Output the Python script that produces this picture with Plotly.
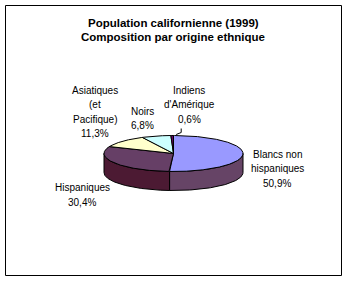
import numpy as np
import plotly.graph_objects as go

# ---- data ----
categories = ["Blancs non hispaniques", "Hispaniques", "Asiatiques (et Pacifique)", "Noirs", "Indiens d'Amérique"]
values = [50.9, 30.4, 11.3, 6.8, 0.6]
label_lines = [["Blancs non", "hispaniques"], ["Hispaniques"], ["Asiatiques", "(et", "Pacifique)"], ["Noirs"], ["Indiens", "d'Amérique"]]

# ---- style / layout ----
top_colors = ["#9999FF", "#663F66", "#FFFFCC", "#CCFFFF", "#660066"]
side_colors = ["#664466", "#4C1A33", "#999966", "#669999", "#330033"]
W, H = 347, 281
cx, cy, rx, ry, depth = 173.5, 153.5, 69.5, 18.0, 19.0
label_first_line = [(277, 154), (82, 187.5), (95, 90), (142, 111), (189, 90)]
line_step = 14.6

fig = go.Figure()

total = sum(values)
starts, ends = [], []
a = 90.0
for v in values:
    sweep = v / total * 360.0
    starts.append(a)
    ends.append(a - sweep)
    a -= sweep

def pt(theta_deg, dy=0.0):
    t = np.radians(theta_deg)
    return cx + rx * np.cos(t), cy - ry * np.sin(t) + dy

# sides (front half)
for i, v in enumerate(values):
    s, e = starts[i], ends[i]
    for lo, hi in [(-180.0, 0.0), (-540.0, -360.0)]:
        a0 = max(e, lo)
        a1 = min(s, hi)
        if a1 > a0:
            th = np.linspace(a1, a0, 80)
            xs_top = [pt(t)[0] for t in th]
            ys_top = [pt(t)[1] for t in th]
            xs = xs_top + xs_top[::-1] + [xs_top[0]]
            ys = ys_top + [y + depth for y in ys_top[::-1]] + [ys_top[0]]
            fig.add_trace(go.Scatter(x=xs, y=ys, mode="lines", fill="toself",
                                     fillcolor=side_colors[i],
                                     line=dict(color="black", width=1),
                                     hoverinfo="skip", showlegend=False))

# top faces
for i, v in enumerate(values):
    th = np.linspace(starts[i], ends[i], max(4, int(abs(starts[i] - ends[i]) * 2)))
    xs = [cx] + [pt(t)[0] for t in th] + [cx]
    ys = [cy] + [pt(t)[1] for t in th] + [cy]
    fig.add_trace(go.Scatter(x=xs, y=ys, mode="lines", fill="toself",
                             fillcolor=top_colors[i],
                             line=dict(color="black", width=1),
                             hoverinfo="skip", showlegend=False, name=categories[i]))

# leader line for the small slice
mid_last = (starts[-1] + ends[-1]) / 2
lx, ly = pt(mid_last)
fig.add_trace(go.Scatter(x=[lx + 4, lx + 9, lx + 9], y=[ly - 1, ly - 3, ly - 7], mode="lines",
                         line=dict(color="black", width=1), hoverinfo="skip", showlegend=False))

font = dict(family="Liberation Sans, Arial, sans-serif", size=10, color="black")
for i, v in enumerate(values):
    lines = label_lines[i] + [f"{v:.1f}".replace(".", ",") + "%"]
    x, y0 = label_first_line[i]
    for k, ln in enumerate(lines):
        fig.add_annotation(x=x, y=y0 + k * line_step, xref="x", yref="y", text=ln, showarrow=False,
                           font=font, align="center", xanchor="center", yanchor="middle")

title_font = dict(family="Liberation Sans, Arial, sans-serif", size=11.5, color="black")
for k, ln in enumerate(["Population californienne (1999)", "Composition par origine ethnique"]):
    fig.add_annotation(x=173, y=22.5 + k * 14.5, xref="x", yref="y", text=f"<b>{ln}</b>",
                       showarrow=False, font=title_font, xanchor="center", yanchor="middle")

fig.add_shape(type="rect", xref="x", yref="y", x0=5.5, y0=5.5, x1=341.5, y1=275.5,
              line=dict(color="black", width=1))

fig.update_layout(width=W, height=H, margin=dict(l=0, r=0, t=0, b=0),
                  paper_bgcolor="white", plot_bgcolor="white",
                  xaxis=dict(range=[0, W], visible=False, fixedrange=True),
                  yaxis=dict(range=[H, 0], visible=False, fixedrange=True),
                  showlegend=False)
fig.write_html("out.html", config={"displayModeBar": False})
